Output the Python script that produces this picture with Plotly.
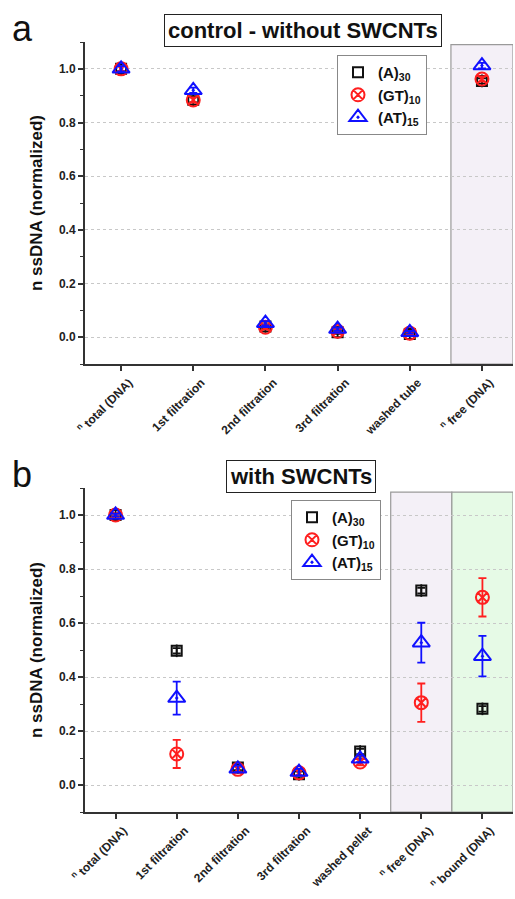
import plotly.graph_objects as go

# ---------------- data ----------------
cats_a = ["<sup>n</sup> total (DNA)", "1st filtration", "2nd filtration", "3rd filtration",
          "washed tube", "<sup>n</sup> free (DNA)"]
cats_b = ["<sup>n</sup> total (DNA)", "1st filtration", "2nd filtration", "3rd filtration",
          "washed pellet", "<sup>n</sup> free (DNA)", "<sup>n</sup> bound (DNA)"]

series_names = ["(A)<sub>30</sub>", "(GT)<sub>10</sub>", "(AT)<sub>15</sub>"]

a_A30 = [1.00, 0.885, 0.040, 0.018, 0.012, 0.955]
a_GT10 = [1.00, 0.884, 0.037, 0.022, 0.015, 0.962]
a_AT15 = [1.00, 0.920, 0.052, 0.030, 0.018, 1.012]
a_A30_err = [0.01, 0.01, 0.008, 0.006, 0.005, 0.01]
a_GT10_err = [0.01, 0.01, 0.008, 0.006, 0.005, 0.01]
a_AT15_err = [0.01, 0.01, 0.008, 0.006, 0.005, 0.01]

b_A30 = [1.00, 0.497, 0.065, 0.040, 0.124, 0.720, 0.282]
b_GT10 = [1.00, 0.115, 0.058, 0.045, 0.085, 0.305, 0.695]
b_AT15 = [1.00, 0.322, 0.060, 0.048, 0.097, 0.527, 0.477]
b_A30_err = [0.005, 0.01, 0.01, 0.01, 0.01, 0.01, 0.01]
b_GT10_err = [0.005, 0.052, 0.012, 0.012, 0.012, 0.071, 0.071]
b_AT15_err = [0.005, 0.061, 0.012, 0.012, 0.012, 0.074, 0.075]

colors = ["#111111", "#ff1f1f", "#1010ff"]
symbols = ["square-open", "circle-x-open", "triangle-up-open-dot"]
sizes = [10, 13, 15]

FONT = "Liberation Sans, Arial, sans-serif"

fig = go.Figure()


def add_panel(xref, yref, legend, cats, vals, errs):
    xs = list(range(len(cats)))
    for i, (v, e) in enumerate(zip(vals, errs)):
        fig.add_trace(go.Scatter(
            x=xs, y=v, mode="markers", name=series_names[i],
            xaxis=xref, yaxis=yref, legend=legend,
            marker=dict(symbol=symbols[i], size=sizes[i], color=colors[i],
                        line=dict(width=2, color=colors[i])),
            error_y=dict(type="data", array=e, visible=True, color=colors[i],
                         thickness=1.8, width=4),
        ))
        if i == 0:
            fig.add_trace(go.Scatter(
                x=xs, y=v, mode="markers", showlegend=False, hoverinfo="skip",
                xaxis=xref, yaxis=yref, legend=legend,
                marker=dict(symbol="line-ns", size=9, color=colors[0],
                            line=dict(width=1.8, color=colors[0])),
            ))


add_panel("x", "y", "legend", cats_a, [a_A30, a_GT10, a_AT15], [a_A30_err, a_GT10_err, a_AT15_err])
add_panel("x2", "y2", "legend2", cats_b, [b_A30, b_GT10, b_AT15], [b_A30_err, b_GT10_err, b_AT15_err])

# shaded regions
shapes = [
    dict(type="rect", xref="x", yref="y", x0=4.57, x1=5.43, y0=-0.1, y1=1.09,
         fillcolor="#f4f0f7", line=dict(color="#9a9a9a", width=1.2), layer="below"),
    dict(type="rect", xref="x2", yref="y2", x0=4.5, x1=5.5, y0=-0.1, y1=1.085,
         fillcolor="#f4f0f7", line=dict(color="#9a9a9a", width=1.2), layer="below"),
    dict(type="rect", xref="x2", yref="y2", x0=5.5, x1=6.5, y0=-0.1, y1=1.085,
         fillcolor="#e6fae6", line=dict(color="#9a9a9a", width=1.2), layer="below"),
]

yax = dict(range=[-0.1, 1.1], tickvals=[0.0, 0.2, 0.4, 0.6, 0.8, 1.0],
           ticktext=["0.0", "0.2", "0.4", "0.6", "0.8", "1.0"],
           showgrid=True, gridcolor="#c8c8c8", griddash="dot", gridwidth=1,
           zeroline=False, showline=True, linecolor="#333333", linewidth=2,
           ticks="outside", ticklen=5, tickwidth=1.5, tickcolor="#333333",
           minor=dict(tickvals=[-0.1, 0.1, 0.3, 0.5, 0.7, 0.9, 1.1], ticks="outside",
                      ticklen=3, tickwidth=1.2, tickcolor="#333333", showgrid=False),
           tickfont=dict(family=FONT, size=12, color="#222222", weight="bold"),
           title=dict(text="<b>n ssDNA (normalized)</b>", font=dict(family=FONT, size=17, color="#111111"),
                      standoff=12),
           automargin=False)

xax = dict(showgrid=False, zeroline=False, showline=True, linecolor="#333333", linewidth=2,
           ticks="outside", ticklen=5, tickwidth=1.5, tickcolor="#333333", tickangle=-45,
           tickfont=dict(family=FONT, size=12, color="#222222", weight="bold"),
           ticklabelshift=8, ticklabelstandoff=0,
           automargin=False)

fig.update_layout(
    width=515, height=899,
    margin=dict(l=0, r=0, t=0, b=0),
    paper_bgcolor="white", plot_bgcolor="white",
    font=dict(family=FONT),
    shapes=shapes,
    xaxis=dict(xax, domain=[85 / 515, 513 / 515], range=[-0.5, 5.43],
               tickvals=list(range(len(cats_a))), ticktext=cats_a, anchor="y"),
    yaxis=dict(yax, domain=[1 - 364 / 899, 1 - 42 / 899], anchor="x"),
    xaxis2=dict(xax, domain=[85 / 515, 513 / 515], range=[-0.5, 6.5],
                tickvals=list(range(len(cats_b))), ticktext=cats_b, anchor="y2"),
    yaxis2=dict(yax, domain=[1 - 812 / 899, 1 - 488 / 899], anchor="x2"),
    legend=dict(x=337 / 515, y=1 - 55 / 899, xanchor="left", yanchor="top",
                bgcolor="white", bordercolor="#888888", borderwidth=1,
                font=dict(family=FONT, size=15, color="#111111", weight="bold")),
    legend2=dict(x=291 / 515, y=1 - 500 / 899, xanchor="left", yanchor="top",
                 bgcolor="white", bordercolor="#888888", borderwidth=1,
                 font=dict(family=FONT, size=15, color="#111111", weight="bold")),
    annotations=[
        dict(text="<b>control - without SWCNTs</b>", xref="paper", yref="paper",
             x=303 / 515, y=1 - 31 / 899, xanchor="center", yanchor="middle", showarrow=False,
             font=dict(family=FONT, size=22, color="#111111"),
             bordercolor="#222222", borderwidth=1, borderpad=3, bgcolor="white"),
        dict(text="<b>with SWCNTs</b>", xref="paper", yref="paper",
             x=301 / 515, y=1 - 477 / 899, xanchor="center", yanchor="middle", showarrow=False,
             font=dict(family=FONT, size=22, color="#111111"),
             bordercolor="#222222", borderwidth=1, borderpad=3, bgcolor="white"),
        dict(text="a", xref="paper", yref="paper", x=10 / 515, y=1 - 28 / 899,
             xanchor="left", yanchor="middle", showarrow=False,
             font=dict(family=FONT, size=36, color="#111111")),
        dict(text="b", xref="paper", yref="paper", x=10 / 515, y=1 - 474 / 899,
             xanchor="left", yanchor="middle", showarrow=False,
             font=dict(family=FONT, size=36, color="#111111")),
    ],
)

fig.write_html("out.html")
